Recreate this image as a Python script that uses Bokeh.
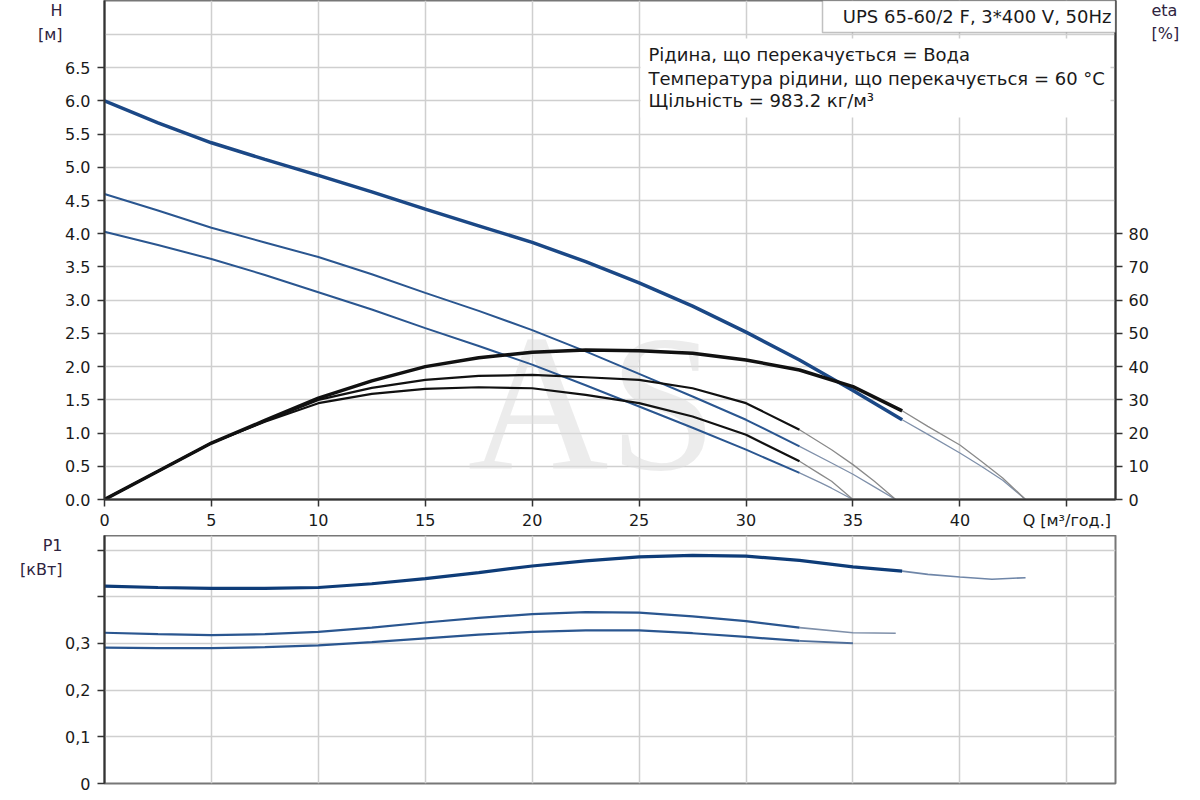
from bokeh.plotting import figure
from bokeh.models import Range1d, LinearAxis, FixedTicker, Label, BoxAnnotation, PrintfTickFormatter
from bokeh.layouts import column
from bokeh.embed import file_html
from bokeh.resources import INLINE

# ---------------- data ----------------
Q_top = [0, 2.5, 5, 7.5, 10, 12.5, 15, 17.5, 20, 22.5, 25, 27.5, 30, 32.5, 35, 37.3]
H_top = [6.00, 5.67, 5.37, 5.12, 4.88, 4.63, 4.37, 4.12, 3.87, 3.58, 3.26, 2.91, 2.52, 2.10, 1.64, 1.20]
eta_top = [0, 8.5, 17.0, 23.8, 30.5, 35.7, 40.0, 42.7, 44.3, 45.0, 44.8, 44.0, 42.0, 39.0, 34.0, 26.7]
P1_top = [0.423, 0.420, 0.418, 0.418, 0.420, 0.428, 0.439, 0.452, 0.466, 0.477, 0.4855, 0.489, 0.487, 0.478, 0.464, 0.455]

Q_low = [0, 2.5, 5, 7.5, 10, 12.5, 15, 17.5, 20, 22.5, 25, 27.5, 30, 32.5]
H_mid = [4.60, 4.35, 4.09, 3.87, 3.65, 3.39, 3.11, 2.84, 2.55, 2.23, 1.89, 1.55, 1.20, 0.80]
H_low = [4.03, 3.83, 3.62, 3.38, 3.12, 2.86, 2.58, 2.31, 2.03, 1.72, 1.40, 1.08, 0.75, 0.40]
eta_mid = [0, 8.5, 17.0, 23.6, 30.0, 33.6, 36.0, 37.2, 37.5, 36.8, 36.0, 33.5, 29.0, 21.0]
eta_low = [0, 8.5, 17.0, 23.4, 29.0, 31.8, 33.3, 33.8, 33.5, 31.5, 29.0, 25.0, 19.5, 11.5]
P1_mid = [0.323, 0.320, 0.318, 0.320, 0.325, 0.334, 0.345, 0.355, 0.363, 0.367, 0.366, 0.358, 0.348, 0.334]
P1_low = [0.291, 0.290, 0.290, 0.292, 0.296, 0.303, 0.311, 0.319, 0.325, 0.328, 0.328, 0.322, 0.314, 0.3055]

# extensions (thin part of the curves)
Q_top_ext = [37.3, 38.5, 40, 41, 42, 43.07]
H_top_ext = [1.20, 0.98, 0.70, 0.50, 0.29, 0.0]
eta_top_ext = [26.7, 22.0, 16.4, 11.5, 6.5, 0.0]
Q_mid_ext = [32.5, 34, 35, 36, 37]
H_mid_ext = [0.80, 0.55, 0.38, 0.19, 0.0]
eta_mid_ext = [21.0, 15.0, 10.5, 5.5, 0.0]
Q_low_ext = [32.5, 33.5, 34, 35]
H_low_ext = [0.40, 0.25, 0.17, 0.0]
eta_low_ext = [11.5, 7.5, 5.5, 0.0]

Q_P1_top_ext = [37.3, 38.5, 40, 41.5, 43.07]
P1_top_ext = [0.455, 0.448, 0.4425, 0.4375, 0.441]
Q_P1_mid_ext = [32.5, 35, 37]
P1_mid_ext = [0.334, 0.323, 0.322]
Q_P1_low_ext = [32.5, 35]
P1_low_ext = [0.3055, 0.3005]

x_ticks = [0, 5, 10, 15, 20, 25, 30, 35, 40, 45]
H_ticks = [0.0, 0.5, 1.0, 1.5, 2.0, 2.5, 3.0, 3.5, 4.0, 4.5, 5.0, 5.5, 6.0, 6.5]
H_grid = [0.5, 1.0, 1.5, 2.0, 2.5, 3.0, 3.5, 4.0, 4.5, 5.0, 5.5, 6.0, 6.5, 7.0]
eta_ticks = [0, 10, 20, 30, 40, 50, 60, 70, 80]
P_ticks = [0, 0.1, 0.2, 0.3, 0.4, 0.5]
P_labels = {0: "0", 0.1: "0,1", 0.2: "0,2", 0.3: "0,3", 0.4: "", 0.5: ""}

title_text = "UPS 65-60/2 F, 3*400 V, 50Hz"
info_lines = ["Рідина, що перекачується = Вода",
              "Температура рідини, що перекачується = 60 °C",
              "Щільність = 983.2 кг/м³"]
H_caption = {7.36: "H", 7.0: "[м]"}
eta_caption = {7.36: "eta", 7.01: "[%]"}
P_caption = {0.509: "P1", 0.458: "[кВт]"}

# ---------------- layout constants ----------------
PX_Q = 21.385
FRAME_W = 1011
X_END = FRAME_W / PX_Q
F1_H = 499
H_END = F1_H / 66.43
F2_H = 248
P_END = F2_H / 466.7
LEFT = 104
RIGHT = 77

FONT = "DejaVu Sans"
TXT = "#1a1a1a"
CAP = "#2e2340"
GRID = "#cfcfcf"
AXC = "#333333"

BLUE_T = "#1b4886"
BLUE = "#2a5690"
EXT_B = "#7f90aa"
EXT_K = "#8a8a8a"


def style(p):
    p.outline_line_color = "#777777"
    p.outline_line_width = 2
    p.background_fill_color = "white"
    p.border_fill_color = "white"
    for ax in p.axis:
        ax.axis_line_color = AXC
        ax.axis_line_width = 2
        ax.major_tick_line_color = AXC
        ax.major_tick_line_width = 1.5
        ax.major_tick_out = 7
        ax.major_tick_in = 0
        ax.minor_tick_line_color = None
        ax.major_label_text_font = FONT
        ax.major_label_text_font_size = "16px"
        ax.major_label_text_color = TXT
    p.grid.grid_line_color = GRID
    p.grid.grid_line_width = 1.5


def caption_axis(ticks, labels):
    ax = LinearAxis(ticker=FixedTicker(ticks=ticks), major_label_overrides=labels)
    ax.axis_line_color = None
    ax.major_tick_line_color = None
    ax.minor_tick_line_color = None
    ax.major_tick_out = 0
    ax.major_tick_in = 0
    ax.major_label_standoff = 0
    ax.major_label_text_font = FONT
    ax.major_label_text_font_size = "16px"
    ax.major_label_text_color = CAP
    return ax


# ---------------- top chart ----------------
p1 = figure(width=LEFT + FRAME_W + RIGHT, height=F1_H + 36,
            x_range=Range1d(0, X_END), y_range=Range1d(0, H_END),
            output_backend="svg", toolbar_location=None,
            min_border_left=LEFT, min_border_right=RIGHT, min_border_top=0, min_border_bottom=36)
p1.extra_y_ranges = {"eta": Range1d(0, H_END * 20)}
p1.add_layout(LinearAxis(y_range_name="eta"), "right")

p1.xaxis.ticker = FixedTicker(ticks=x_ticks)
p1.xaxis.major_label_overrides = {45: "Q [м³/год.]"}
p1.xaxis.major_label_standoff = 4
p1.yaxis[0].ticker = FixedTicker(ticks=H_ticks)
p1.yaxis[0].formatter = PrintfTickFormatter(format="%.1f")
p1.yaxis[0].major_label_standoff = 7
p1.yaxis[1].ticker = FixedTicker(ticks=eta_ticks)
p1.yaxis[1].major_label_standoff = 6
p1.xgrid.ticker = FixedTicker(ticks=x_ticks[1:])
p1.ygrid.ticker = FixedTicker(ticks=H_grid)
style(p1)
p1.add_layout(caption_axis(list(H_caption), H_caption), "left")
p1.add_layout(caption_axis(list(eta_caption), eta_caption), "right")

# watermark
p1.add_layout(Label(x=488, y=F1_H - 402, x_units="screen", y_units="screen", text="AS",
                    text_font="Liberation Serif", text_font_size="195px",
                    text_color="#dcdcdc", text_alpha=0.55, text_align="center",
                    text_baseline="middle", level="underlay"))

# extensions first (thin)
p1.line(Q_top_ext, H_top_ext, line_color=EXT_B, line_width=1.3)
p1.line(Q_mid_ext, H_mid_ext, line_color=EXT_B, line_width=1.3)
p1.line(Q_low_ext, H_low_ext, line_color=EXT_B, line_width=1.3)
p1.line(Q_top_ext, eta_top_ext, line_color=EXT_K, line_width=1.3, y_range_name="eta")
p1.line(Q_mid_ext, eta_mid_ext, line_color=EXT_K, line_width=1.3, y_range_name="eta")
p1.line(Q_low_ext, eta_low_ext, line_color=EXT_K, line_width=1.3, y_range_name="eta")

# head curves
p1.line(Q_top, H_top, line_color=BLUE_T, line_width=3.5)
p1.line(Q_low, H_mid, line_color=BLUE, line_width=2)
p1.line(Q_low, H_low, line_color=BLUE, line_width=2)
# efficiency curves
p1.line(Q_top, eta_top, line_color="#111111", line_width=3.5, y_range_name="eta")
p1.line(Q_low, eta_mid, line_color="#111111", line_width=2.2, y_range_name="eta")
p1.line(Q_low, eta_low, line_color="#111111", line_width=2.2, y_range_name="eta")

# title box and info block
p1.add_layout(BoxAnnotation(left=718, right=FRAME_W, bottom=F1_H - 32, top=F1_H,
                            left_units="screen", right_units="screen",
                            bottom_units="screen", top_units="screen",
                            fill_color="white", fill_alpha=1.0,
                            line_color="#333333", line_width=1.5))
p1.add_layout(BoxAnnotation(left=536, right=1006, bottom=F1_H - 117, top=F1_H - 38,
                            left_units="screen", right_units="screen",
                            bottom_units="screen", top_units="screen",
                            fill_color="white", fill_alpha=1.0, line_color=None))
p1.add_layout(Label(x=1007, y=F1_H - 16, x_units="screen", y_units="screen",
                    text=title_text, text_font=FONT, text_font_size="18px",
                    text_color=TXT, text_align="right", text_baseline="middle"))
for i, t in enumerate(info_lines):
    p1.add_layout(Label(x=544, y=F1_H - [54, 78, 100][i], x_units="screen", y_units="screen",
                        text=t, text_font=FONT, text_font_size="18px",
                        text_color=TXT, text_align="left", text_baseline="middle"))

# ---------------- bottom chart ----------------
p2 = figure(width=LEFT + FRAME_W + RIGHT, height=F2_H + 16,
            x_range=p1.x_range, y_range=Range1d(0, P_END),
            output_backend="svg", toolbar_location=None,
            min_border_left=LEFT, min_border_right=RIGHT, min_border_top=0, min_border_bottom=16)
p2.xaxis.visible = False
p2.yaxis.ticker = FixedTicker(ticks=P_ticks)
p2.yaxis.major_label_overrides = P_labels
p2.yaxis.major_label_standoff = 7
p2.xgrid.ticker = FixedTicker(ticks=x_ticks[1:])
p2.ygrid.ticker = FixedTicker(ticks=P_ticks[1:])
style(p2)
p2.add_layout(caption_axis(list(P_caption), P_caption), "left")

p2.line(Q_P1_top_ext, P1_top_ext, line_color="#6f86a8", line_width=1.6)
p2.line(Q_P1_mid_ext, P1_mid_ext, line_color="#7f90aa", line_width=1.6)
p2.line(Q_P1_low_ext, P1_low_ext, line_color="#4f6e9a", line_width=1.8)
p2.line(Q_top, P1_top, line_color="#0e3c78", line_width=3.2)
p2.line(Q_low, P1_mid, line_color=BLUE, line_width=2.2)
p2.line(Q_low, P1_low, line_color=BLUE, line_width=2.2)

layout = column(p1, p2)
open("out.html", "w").write(file_html(layout, INLINE))
